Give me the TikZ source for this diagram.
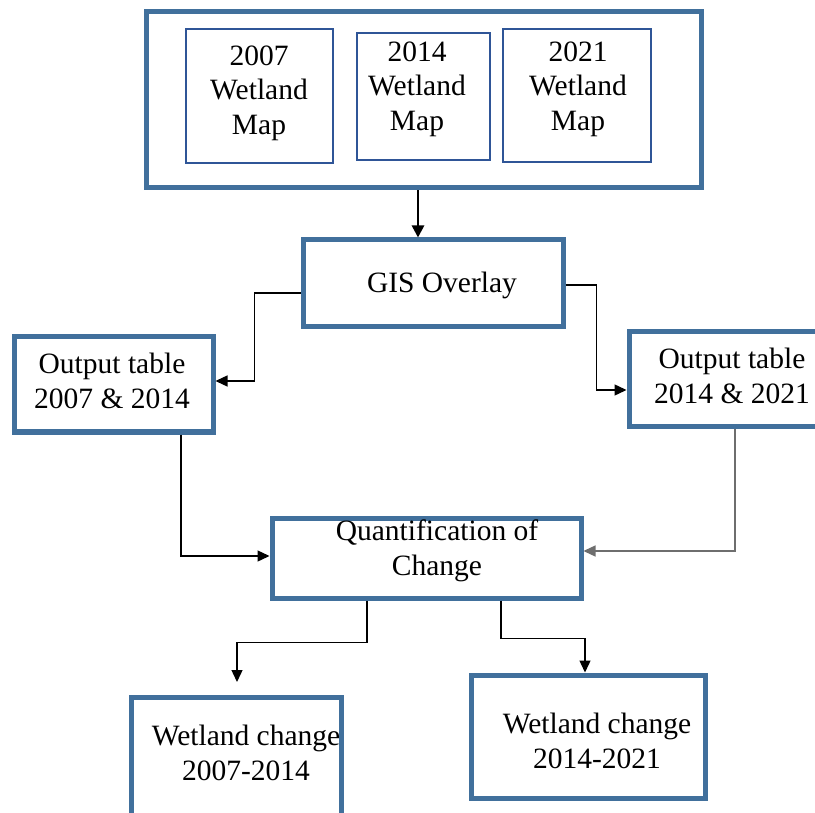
\documentclass[tikz,border=0pt]{standalone}
\usepackage{fontspec}
\setmainfont{Liberation Serif}
\usetikzlibrary{arrows.meta}
\definecolor{frameblue}{RGB}{65,112,156}
\definecolor{innerblue}{RGB}{47,85,151}
\definecolor{linegray}{RGB}{110,110,110}
\begin{document}
\begin{tikzpicture}[x=1pt,y=-1pt,
  bigbox/.style={draw=frameblue,line width=5pt,inner sep=0pt,rectangle},
  mapbox/.style={draw=innerblue,line width=1.4pt,inner sep=0pt,rectangle},
  txt/.style={align=center,inner sep=0pt,font=\fontsize{29.5}{34.5}\selectfont},
  conn/.style={draw=black,line width=1.4pt,-{Triangle[length=12pt,width=11pt]}},
  mainarrow/.style={draw=black,line width=2.6pt,-{Triangle[length=12pt,width=12pt]}}]
\useasboundingbox (0,0) rectangle (815,813);
\fill[white] (0,0) rectangle (815,813);

% frames
\node[bigbox,minimum width=555pt,minimum height=176pt] (maps) at (423.5,100) {};
\node[mapbox,minimum width=147pt,minimum height=134pt] (m07) at (259.5,96) {};
\node[mapbox,minimum width=133pt,minimum height=127pt] (m14) at (423.5,96.5) {};
\node[mapbox,minimum width=148pt,minimum height=133pt] (m21) at (577,95.5) {};
\node[bigbox,minimum width=260pt,minimum height=87pt] (gis) at (433,283.5) {};
\node[bigbox,minimum width=199pt,minimum height=95pt] (outL) at (113.5,384.5) {};
\node[bigbox,minimum width=195pt,minimum height=95pt] (outR) at (726.5,379.5) {};
\node[bigbox,minimum width=309pt,minimum height=80pt] (quant) at (426.5,558) {};
\node[bigbox,minimum width=210pt,minimum height=123pt] (chL) at (236,758.5) {};
\node[bigbox,minimum width=234pt,minimum height=123pt] (chR) at (588,736.5) {};

% labels
\node[txt] (t07) at (259,93) {2007\\Wetland\\Map};
\node[txt] (t14) at (417,89) {2014\\Wetland\\Map};
\node[txt] (t21) at (578,89) {2021\\Wetland\\Map};
\node[txt] (tgis) at (442,285) {GIS Overlay};
\node[txt] (toutL) at (112,381) {Output table\\2007 \& 2014};
\node[txt] (toutR) at (732,376) {Output table\\2014 \& 2021};
\node[txt] (tquant) at (437,551) {Quantification of\\Change};
\node[txt] (tchL) at (246,753) {Wetland change\\2007-2014};
\node[txt] (tchR) at (597,741) {Wetland change\\2014-2021};

% connectors
\coordinate (tipL) at (237,682);
\draw[mainarrow] ([xshift=-5.5pt]maps.south) -- ([xshift=-5.5pt]maps.south |- gis.north);
\draw[conn] ([yshift=-9.5pt]gis.west) -- ++(-46,0) |- ([yshift=3.5pt]outL.east);
\draw[conn] ([yshift=-1.5pt]gis.east) -- ++(31,0) |- ([yshift=-10.5pt]outR.west);
\draw[conn] ([xshift=67.5pt]outL.south) |- ([yshift=2pt]quant.west);
\draw[conn,draw=linegray] ([xshift=8.5pt]outR.south) |- ([yshift=7pt]quant.east);
\draw[conn] ([xshift=-59.5pt]quant.south) -- ++(0,42) -| (tipL);
\draw[conn] ([xshift=74.5pt]quant.south) -- ++(0,38) -| ([xshift=-3pt]chR.north);
\end{tikzpicture}
\end{document}
